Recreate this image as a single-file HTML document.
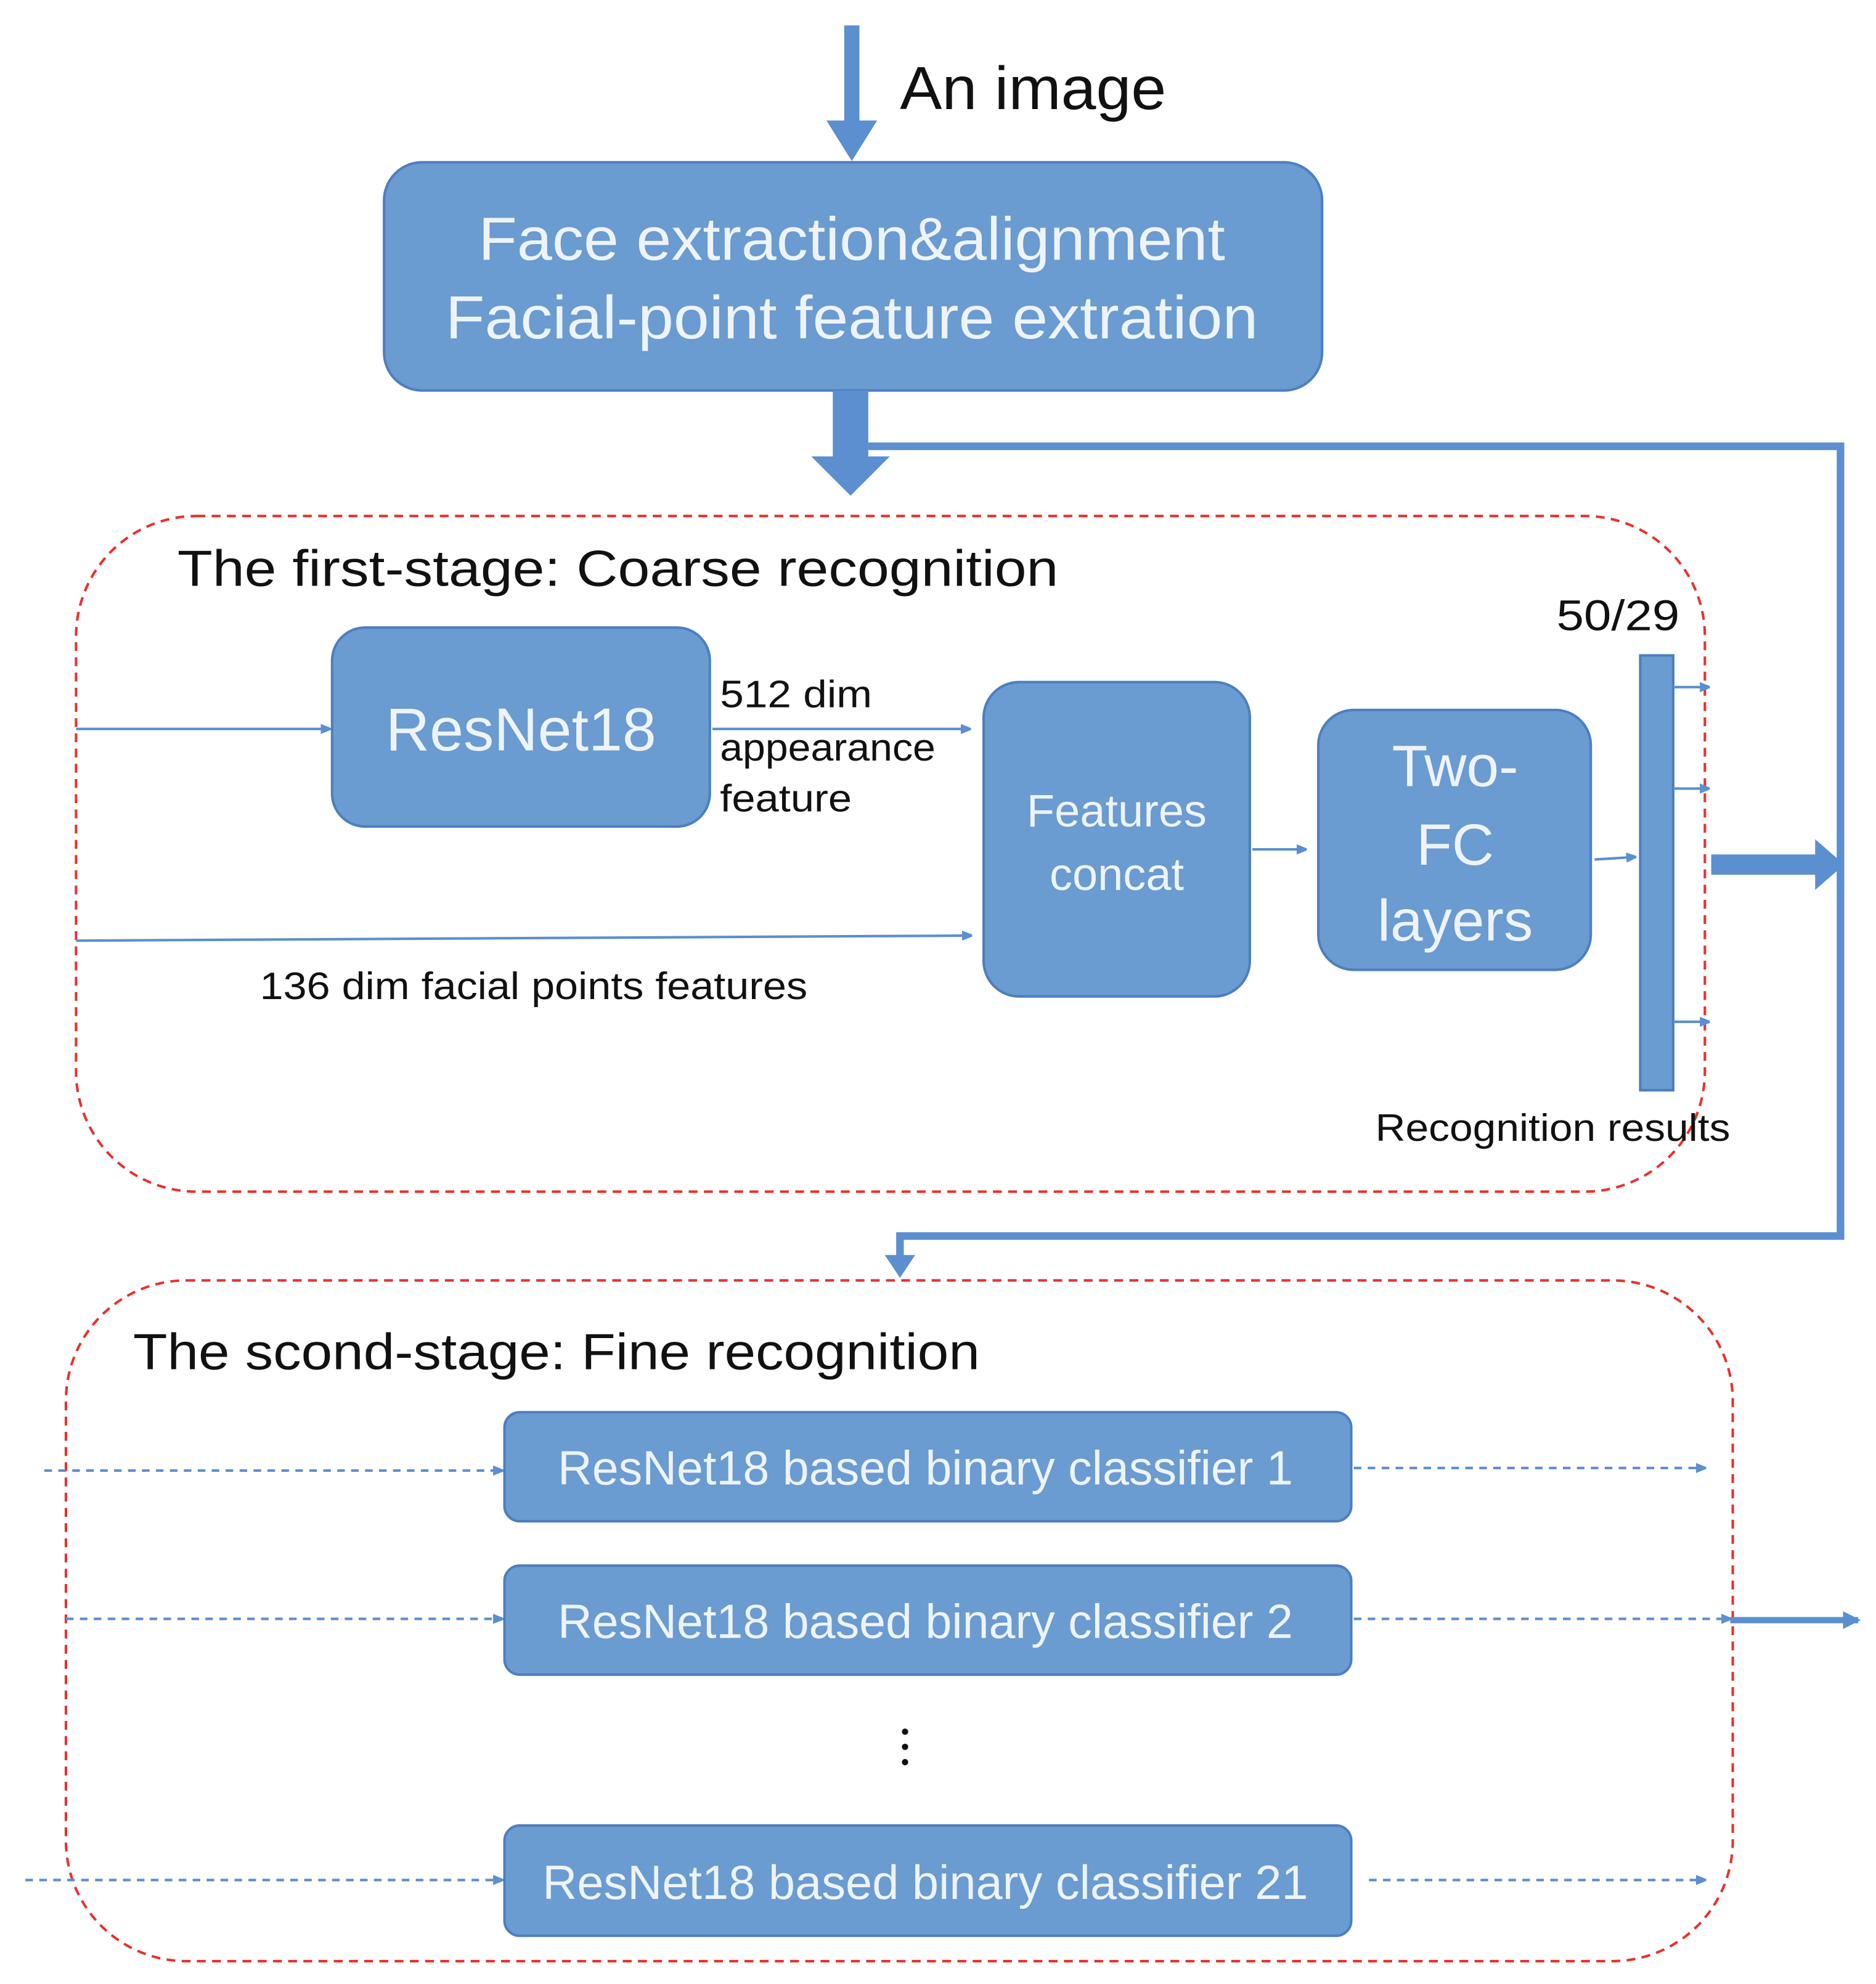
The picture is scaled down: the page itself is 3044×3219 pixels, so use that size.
<!DOCTYPE html>
<html><head><meta charset="utf-8"><style>
html,body{margin:0;padding:0;background:#fff;}
svg{display:block;}
text{font-family:"Liberation Sans",sans-serif;}
</style></head><body>
<svg width="3044" height="3219" viewBox="0 0 1480 1565" xmlns="http://www.w3.org/2000/svg">
<defs>
<marker id="a" markerWidth="8" markerHeight="8" refX="7" refY="4" orient="auto" markerUnits="userSpaceOnUse"><path d="M0,0 L10,4 L0,8 z" fill="#5b8fcf"/></marker>
<marker id="b" markerWidth="14" markerHeight="14" refX="12" refY="7" orient="auto" markerUnits="userSpaceOnUse"><path d="M0,0 L14,7 L0,14 z" fill="#5b8fcf"/></marker>
</defs>
<g fill="#6a9bd1" stroke="#4d7fbf" stroke-width="2">
<rect x="303" y="128" width="740" height="180" rx="30"/>
<rect x="262" y="495" width="298" height="157" rx="26"/>
<rect x="776" y="538" width="210" height="248" rx="28"/>
<rect x="1040" y="560" width="215" height="205" rx="28"/>
<rect x="1294" y="517" width="26" height="343"/>
<rect x="398" y="1114" width="668" height="86" rx="12"/>
<rect x="398" y="1235" width="668" height="86" rx="12"/>
<rect x="398" y="1440" width="668" height="87" rx="12"/>
</g>
<rect x="666" y="20" width="12" height="78" fill="#5b8fcf"/>
<path d="M652,95 L692,95 L672,127 z" fill="#5b8fcf"/>
<text x="710" y="86" font-size="48" fill="#111" textLength="210" lengthAdjust="spacingAndGlyphs">An image</text>
<g fill="#eef3fa" text-anchor="middle">
<text x="672" y="205" font-size="48" textLength="589" lengthAdjust="spacingAndGlyphs">Face extraction&amp;alignment</text>
<text x="672" y="267" font-size="48" textLength="641" lengthAdjust="spacingAndGlyphs">Facial-point feature extration</text>
<text x="411" y="592" font-size="48">ResNet18</text>
<text x="881" y="652" font-size="36">Features</text>
<text x="881" y="702" font-size="36">concat</text>
<text x="1148" y="620" font-size="46">Two-</text>
<text x="1148" y="682" font-size="46">FC</text>
<text x="1148" y="742" font-size="46">layers</text>
<text x="730" y="1171" font-size="38" textLength="580" lengthAdjust="spacingAndGlyphs">ResNet18 based binary classifier 1</text>
<text x="730" y="1292" font-size="38" textLength="580" lengthAdjust="spacingAndGlyphs">ResNet18 based binary classifier 2</text>
<text x="730" y="1498" font-size="38" textLength="604" lengthAdjust="spacingAndGlyphs">ResNet18 based binary classifier 21</text>
</g>
<rect x="657" y="308" width="28" height="56" fill="#5b8fcf"/>
<path d="M640,360 L702,360 L671,391 z" fill="#5b8fcf"/>
<polyline points="685,352 1452,352 1452,975 710,975 710,995" fill="none" stroke="#5b8fcf" stroke-width="6"/>
<path d="M698,990 L722,990 L710,1008 z" fill="#5b8fcf"/>
<rect x="60" y="407" width="1285" height="533" rx="95" fill="none" stroke="#e8322e" stroke-width="2" stroke-dasharray="7,5"/>
<rect x="52" y="1010" width="1315" height="537" rx="95" fill="none" stroke="#e8322e" stroke-width="2" stroke-dasharray="7,5"/>
<text x="140" y="462" font-size="40" fill="#111" textLength="695" lengthAdjust="spacingAndGlyphs">The first-stage: Coarse  recognition</text>
<text x="105" y="1080" font-size="40" fill="#111" textLength="668" lengthAdjust="spacingAndGlyphs">The scond-stage: Fine recognition</text>
<g stroke="#5b8fcf" stroke-width="2" fill="none">
<line x1="60" y1="575" x2="260" y2="575" marker-end="url(#a)"/>
<line x1="562" y1="575" x2="765" y2="575" marker-end="url(#a)"/>
<line x1="60" y1="742" x2="766" y2="738" marker-end="url(#a)"/>
<line x1="988" y1="670" x2="1030" y2="670" marker-end="url(#a)"/>
<line x1="1258" y1="678" x2="1290" y2="676" marker-end="url(#a)"/>
<line x1="1320" y1="542" x2="1348" y2="542" marker-end="url(#a)"/>
<line x1="1320" y1="622" x2="1348" y2="622" marker-end="url(#a)"/>
<line x1="1320" y1="806" x2="1348" y2="806" marker-end="url(#a)"/>
</g>
<rect x="1350" y="674" width="85" height="16" fill="#5b8fcf"/>
<path d="M1432,662 L1455,682 L1432,702 z" fill="#5b8fcf"/>
<g font-size="30" fill="#111">
<text x="568" y="558" textLength="120" lengthAdjust="spacingAndGlyphs">512  dim</text>
<text x="568" y="600" textLength="170" lengthAdjust="spacingAndGlyphs">appearance</text>
<text x="568" y="640" textLength="104" lengthAdjust="spacingAndGlyphs">feature</text>
<text x="205" y="788" textLength="432" lengthAdjust="spacingAndGlyphs">136  dim facial points features</text>
<text x="1085" y="900" textLength="280" lengthAdjust="spacingAndGlyphs">Recognition results</text>
</g>
<text x="1228" y="497" font-size="34" fill="#111" textLength="97" lengthAdjust="spacingAndGlyphs">50/29</text>
<g stroke="#5b8fcf" stroke-width="2" stroke-dasharray="6,5" fill="none">
<line x1="35" y1="1160" x2="396" y2="1160" marker-end="url(#a)"/>
<line x1="52" y1="1277" x2="396" y2="1277" marker-end="url(#a)"/>
<line x1="20" y1="1483" x2="396" y2="1483" marker-end="url(#a)"/>
<line x1="1068" y1="1158" x2="1345" y2="1158" marker-end="url(#a)"/>
<line x1="1068" y1="1277" x2="1365" y2="1277" marker-end="url(#a)"/>
<line x1="1080" y1="1483" x2="1345" y2="1483" marker-end="url(#a)"/>
</g>
<line x1="1365" y1="1278" x2="1466" y2="1278" stroke="#5b8fcf" stroke-width="5" marker-end="url(#b)"/>
<g fill="#111"><circle cx="714" cy="1366" r="2.5"/><circle cx="714" cy="1378" r="2.5"/><circle cx="714" cy="1390" r="2.5"/></g>
</svg>
</body></html>
